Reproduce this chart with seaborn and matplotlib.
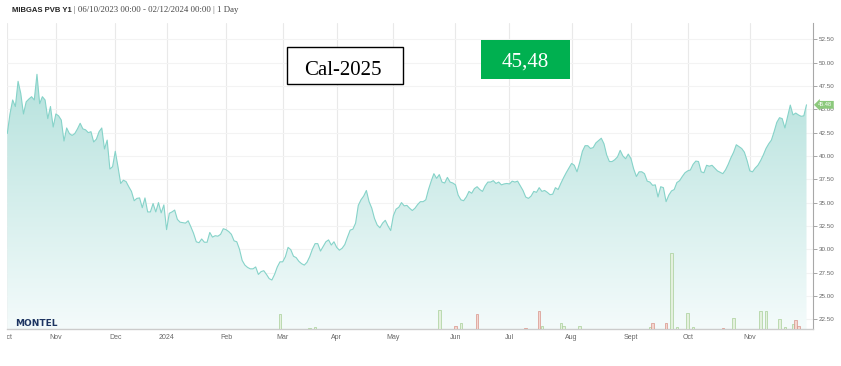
import numpy as np
import pandas as pd
import matplotlib
matplotlib.use("Agg")
import matplotlib.pyplot as plt
import seaborn as sns
from matplotlib.patches import Rectangle
from matplotlib.colors import LinearSegmentedColormap
from matplotlib.transforms import Bbox, TransformedBbox

# ---------------- data ----------------
start_date = "2023-10-06"
end_date = "2024-12-02"
holidays = ["2023-12-25", "2023-12-26", "2024-01-01", "2024-03-29", "2024-04-01"]

prices_2023 = [
    42.4, 44.5, 46.0, 45.3, 48.0, 46.7, 44.5, 45.8, 46.1, 46.35,
    46.0, 48.75, 45.6, 46.35, 46.0, 44.0, 45.3, 43.1, 44.5, 44.3,
    43.85, 41.6, 43.0, 42.4, 42.2, 42.4, 42.9, 43.5, 42.9, 42.8,
    42.5, 42.6, 41.5, 41.8, 42.6, 43.0, 40.75, 41.7, 38.6, 38.85,
    40.5, 38.85, 37.05, 37.4, 37.25, 36.7, 36.2, 35.2, 35.45, 35.5,
    34.45, 35.5, 34.0, 34.0, 34.9, 34.0, 35.0, 33.9, 34.75,
]
prices_2024 = [
    32.1,
    33.85, 34.0, 34.2, 33.2, 32.9, 32.85, 32.8, 33.05, 32.4, 31.7,
    30.8, 30.7, 31.1, 30.75, 30.75, 31.8, 31.3, 31.45, 31.4, 31.6,
    32.2, 32.1, 31.9, 31.6, 30.9, 30.8, 30.0, 28.8, 28.3, 28.05,
    27.9, 27.9, 28.1, 27.3, 27.6, 27.7, 27.3, 26.85, 26.7, 27.3,
    28.1, 28.65, 28.65, 29.2, 30.2, 29.95, 29.25, 29.1, 28.7, 28.45,
    28.3, 28.6, 29.2, 30.0, 30.6, 30.6, 29.8, 30.3, 30.8, 31.0,
    30.45, 30.8, 30.2, 29.9, 30.1, 30.5, 31.3, 32.05, 32.15, 32.8,
    34.7, 35.3, 35.7, 36.3, 35.1, 34.4, 33.3, 32.6, 32.3, 32.8,
    33.1, 32.5, 32.0, 33.6, 34.3, 34.5, 35.0, 34.65, 34.7, 34.4,
    34.15, 34.4, 34.8, 35.1, 35.1, 35.3, 36.4, 37.3, 38.1, 37.6,
    38.0, 37.2, 37.1, 37.7, 37.2, 37.1, 36.9, 35.8, 35.3, 35.2,
    35.6, 36.2, 36.0, 36.5, 36.7, 36.4, 36.2, 36.8, 37.2, 37.2,
    37.35, 37.05, 37.2, 36.9, 37.0, 37.05, 37.0, 37.3, 37.2, 37.3,
    36.8, 36.3, 35.6, 35.45, 35.7, 36.2, 36.1, 36.6, 36.2, 36.3,
    36.1, 35.85, 35.9, 36.6, 36.4, 37.05, 37.65, 38.2, 38.7, 39.2,
    39.0, 38.3, 39.3, 40.5, 41.1, 41.1, 40.8, 40.9, 41.4, 41.65,
    41.9, 41.3, 40.1, 39.4, 39.4, 39.6, 39.9, 40.6, 40.0, 39.7,
    40.2, 39.7, 38.6, 37.8, 38.3, 38.3, 38.1, 37.3, 37.2, 36.85,
    36.9, 35.6, 36.7, 36.6, 35.1, 35.8, 36.25, 36.4, 37.15, 37.35,
    37.8, 38.2, 38.4, 38.5, 39.1, 39.45, 39.4, 38.3, 38.2, 39.0,
    38.9, 39.0, 38.7, 38.4, 38.25, 38.1, 38.5, 39.1, 39.8, 40.4,
    41.2, 41.0, 40.8, 40.4, 39.5, 38.4, 38.3, 38.7, 39.0, 39.5,
    40.1, 40.8, 41.3, 41.7, 42.6, 43.6, 44.1, 44.0, 43.0, 44.2,
    45.45, 44.4, 44.6, 44.4, 44.25, 44.3, 45.48,
]

bar_dates = ["2024-02-29", "2024-03-15", "2024-03-19", "2024-05-24", "2024-06-03",
             "2024-06-05", "2024-06-13", "2024-07-09", "2024-07-16", "2024-07-17",
             "2024-07-26", "2024-07-29", "2024-08-06", "2024-09-11", "2024-09-12",
             "2024-09-19", "2024-09-23", "2024-09-25", "2024-10-01", "2024-10-03",
             "2024-10-18", "2024-10-24", "2024-11-07", "2024-11-11", "2024-11-18",
             "2024-11-20", "2024-11-25", "2024-11-26", "2024-11-27"]
bar_volumes = [15, 1.2, 2.3, 19, 3, 6, 15, 1, 17.7, 3,
               6, 3, 2.7, 2.5, 5.7, 6, 76, 2.3, 15.7, 2.3,
               1, 10.7, 18, 18, 10, 2.3, 5, 9, 3.3]
bar_sides = ["up", "up", "up", "up", "down", "up", "down", "down", "down", "up",
             "up", "up", "up", "up", "down", "down", "up", "up", "up", "up",
             "down", "up", "up", "up", "up", "up", "up", "down", "down"]

month_labels = ["Oct", "Nov", "Dec", "2024", "Feb", "Mar", "Apr", "May",
                "Jun", "Jul", "Aug", "Sept", "Oct", "Nov"]
y_ticks = [22.5, 25.0, 27.5, 30.0, 32.5, 35.0, 37.5, 40.0, 42.5, 45.0, 47.5, 50.0, 52.5]
y_limits = (21.45, 54.25)
last_price = 45.48

title_bold = "MIBGAS PVB Y1"
title_rest = "| 06/10/2023 00:00 - 02/12/2024 00:00 | 1 Day"
contract_label = "Cal-2025"
price_label = "45,48"
logo_text = "MONTEL"

# ---------------- build frame ----------------
prices = prices_2023 + prices_2024
days = pd.bdate_range(start_date, end_date)
days = days[~days.isin(pd.to_datetime(holidays))]
n = min(len(days), len(prices))
df = pd.DataFrame({"date": days[:n], "idx": np.arange(n), "price": prices[:n]})
date_to_idx = dict(zip(df["date"], df["idx"]))

bars = pd.DataFrame({"date": pd.to_datetime(bar_dates), "vol": bar_volumes, "side": bar_sides})
bars["idx"] = bars["date"].map(date_to_idx)
bars = bars.dropna()

month_pos = df.groupby(df["date"].dt.to_period("M"))["idx"].min().tolist()[:len(month_labels)]

# ---------------- figure ----------------
sns.set_style("white")
plt.rcParams["font.family"] = ["Liberation Sans", "DejaVu Sans"]

W, H = 841, 366
fig = plt.figure(figsize=(W / 100, H / 100), dpi=100)
fig.patch.set_facecolor("white")
ax_left, ax_right, ax_top, ax_bottom = 7, 812.7, 23, 329
ax = fig.add_axes([ax_left / W, 1 - ax_bottom / H, (ax_right - ax_left) / W, (ax_bottom - ax_top) / H])
ax2 = ax.twinx()

# gradient area
ymin = y_limits[0]
poly = ax.fill_between(df["idx"], df["price"], ymin, facecolor="none", edgecolor="none")
cmap = LinearSegmentedColormap.from_list("area", ["#f4fbfb", "#b6e2dd"])
grad = np.linspace(0, 1, 256).reshape(-1, 1)
im = ax.imshow(grad, extent=[0, n - 1, ymin, max(prices)], origin="lower",
               aspect="auto", cmap=cmap, zorder=1, interpolation="bilinear")
im.set_clip_path(poly.get_paths()[0], transform=ax.transData)

sns.lineplot(data=df, x="idx", y="price", ax=ax, color="#86d3c9", linewidth=0.8, zorder=3)

px_per_idx = 2.7
ax.set_xlim(-0.1, (ax_right - ax_left - 0.3) / px_per_idx)
ax.set_ylim(*y_limits)

ax.set_xticks(month_pos)
ax.set_xticklabels(month_labels[:len(month_pos)])
ax.set_yticks(y_ticks)
ax.set_yticklabels([f"{v:.2f}" for v in y_ticks])
ax.set_xlabel("")
ax.set_ylabel("")
ax.set_axisbelow(True)
ax.grid(axis="x", color="#e9e9e9", linewidth=0.8)
ax.grid(axis="y", color="#f3f3f3", linewidth=0.8)

ax.tick_params(axis="x", length=0, pad=3.5, labelsize=5, labelcolor="#666666")
for s in ["top", "left"]:
    ax.spines[s].set_visible(False)
ax.spines["right"].set_color("#a8a8a8")
ax.spines["right"].set_linewidth(0.8)
ax.spines["bottom"].set_color("#cccccc")
ax.spines["bottom"].set_linewidth(1.0)

# clip first label ("Oct") at chart left edge
clip = TransformedBbox(Bbox([[ax_left / W, 0], [1, 1]]), fig.transFigure)
first = ax.get_xticklabels()[0]
first.set_clip_box(clip)
first.set_clip_on(True)

# volume bars on hidden twin axis (pixel-height units)
ax2.set_ylim(0, ax_bottom - ax_top)
colors = {"up": ("#e4f0de", "#a8cf98"), "down": ("#f4d6cf", "#d8948a")}
for side, (fc, ec) in colors.items():
    sub = bars[bars["side"] == side]
    ax2.bar(sub["idx"], sub["vol"], width=0.95, color=fc, edgecolor=ec, linewidth=0.5, zorder=2)
ax2.set_yticks([])
ax2.tick_params(axis="y", left=False, right=False, labelleft=False, labelright=False)
for s in ax2.spines.values():
    s.set_visible(False)
ax2.set_xlim(ax.get_xlim())

# price ticks on the right side
ax.yaxis.set_ticks_position("right")
ax.yaxis.set_label_position("right")
ax.tick_params(axis="y", which="both", left=False, labelleft=False, right=True, labelright=True,
               length=3, width=0.6, color="#999999", pad=1.5, labelsize=4.5, labelcolor="#666666")

# last price flag
ax.annotate(f"{last_price:.2f}", xy=(1, last_price), xycoords=("axes fraction", "data"),
            xytext=(4, 0), textcoords="offset points", fontsize=4, color="white",
            va="center", ha="left", annotation_clip=False, zorder=10,
            bbox=dict(boxstyle="larrow,pad=0.25", fc="#8cc97c", ec="none"))

# title
fig.text(12 / W, 1 - 10 / H, title_bold, fontsize=5.5, fontweight="bold", color="#222222",
         va="center", ha="left")
fig.text(74 / W, 1 - 10 / H, title_rest, fontsize=6.3, color="#444444", va="center", ha="left",
         family=["Liberation Serif", "DejaVu Serif"])

# logo
fig.text(15 / W, 1 - 323.5 / H, logo_text, fontsize=6.5, fontweight="bold", color="#1d3461",
         va="center", ha="left", family=["DejaVu Sans"])

# annotation boxes
fig.add_artist(Rectangle((287.3 / W, 1 - 84.3 / H), (402.7 - 287.3) / W, (84.3 - 47.3) / H,
                         transform=fig.transFigure, facecolor="white", edgecolor="black",
                         linewidth=1.0, zorder=20))
fig.text(342.5 / W, 1 - 75 / H, contract_label, fontsize=15, color="black", ha="center",
         va="baseline", family=["Liberation Serif", "DejaVu Serif"], zorder=21)
fig.add_artist(Rectangle((481 / W, 1 - 78.7 / H), 89 / W, (78.7 - 40) / H,
                         transform=fig.transFigure, facecolor="#00b050", edgecolor="none", zorder=20))
fig.text(525.5 / W, 1 - 66.7 / H, price_label, fontsize=15, color="white", ha="center",
         va="baseline", family=["Liberation Serif", "DejaVu Serif"], zorder=21)

fig.savefig("out.png", dpi=100, facecolor="white")
